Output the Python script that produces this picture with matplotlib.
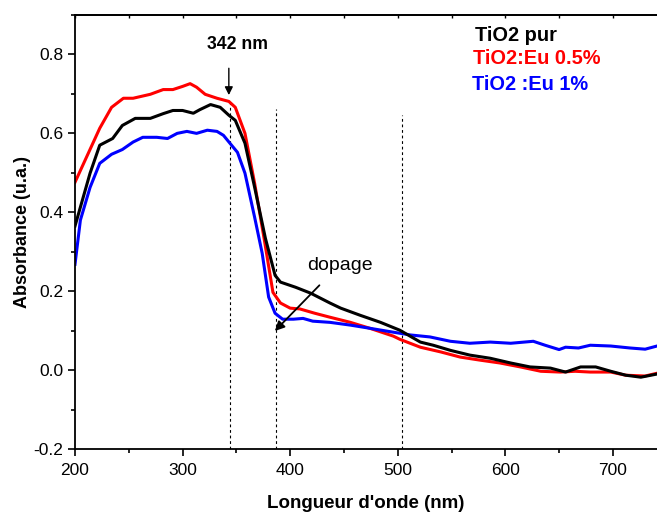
import numpy as np
import matplotlib
matplotlib.use("Agg")
import matplotlib.pyplot as plt
from matplotlib.ticker import MultipleLocator

plt.rcParams["font.family"] = ["Liberation Sans", "DejaVu Sans"]

# TiO2 pur (noir)
x_pur = [200, 214, 223, 235, 244, 256, 270, 282, 291, 300, 310, 316, 326, 335, 343, 349,
         358, 367, 377, 386, 391, 405, 419, 437, 447, 465, 484, 502, 521, 533, 549, 567,
         586, 605, 623, 642, 656, 670, 684, 698, 712, 726, 741]
y_pur = [0.365, 0.499, 0.570, 0.587, 0.620, 0.638, 0.638, 0.650, 0.658, 0.658, 0.651, 0.660,
         0.673, 0.666, 0.646, 0.633, 0.575, 0.463, 0.334, 0.240, 0.223, 0.210, 0.195, 0.170,
         0.157, 0.139, 0.121, 0.101, 0.071, 0.063, 0.050, 0.038, 0.030, 0.018, 0.008, 0.005,
         -0.005, 0.008, 0.008, -0.003, -0.013, -0.018, -0.010]

# TiO2:Eu 0.5% (rouge)
x_eu05 = [200, 223, 234, 245, 254, 270, 282, 291, 300, 307, 313, 321, 332, 343, 349, 358,
          367, 376, 384, 391, 400, 409, 423, 437, 456, 474, 496, 502, 521, 540, 558, 577,
          595, 614, 633, 651, 665, 679, 698, 712, 730, 741]
y_eu05 = [0.476, 0.613, 0.666, 0.689, 0.689, 0.699, 0.711, 0.711, 0.719, 0.726, 0.717, 0.699,
          0.689, 0.681, 0.666, 0.600, 0.473, 0.330, 0.197, 0.170, 0.157, 0.155, 0.144, 0.134,
          0.121, 0.106, 0.086, 0.078, 0.058, 0.046, 0.033, 0.025, 0.018, 0.008, -0.003,
          -0.005, -0.003, -0.005, -0.005, -0.013, -0.015, -0.008]

# TiO2 :Eu 1% (bleu)
x_eu1 = [200, 205, 214, 223, 234, 244, 254, 263, 276, 286, 295, 304, 313, 323, 332, 338,
         344, 351, 358, 367, 374, 380, 386, 393, 403, 412, 421, 437, 456, 474, 496, 512,
         530, 549, 567, 586, 605, 626, 637, 650, 656, 668, 679, 698, 716, 730, 741]
y_eu1 = [0.268, 0.380, 0.463, 0.524, 0.547, 0.559, 0.578, 0.590, 0.590, 0.587, 0.600, 0.605,
         0.600, 0.608, 0.605, 0.595, 0.575, 0.552, 0.499, 0.387, 0.296, 0.185, 0.144, 0.129,
         0.129, 0.131, 0.124, 0.121, 0.114, 0.106, 0.096, 0.089, 0.084, 0.073, 0.068, 0.071,
         0.068, 0.073, 0.063, 0.052, 0.058, 0.056, 0.063, 0.061, 0.056, 0.053, 0.061]

# lignes pointillees verticales (x, y haut)
vlines_x = [344, 387, 504]
vlines_top = [0.685, 0.663, 0.646]

fig = plt.figure(figsize=(6.57, 5.13), dpi=100)
ax = fig.add_axes([75 / 657, 1 - 449 / 513, 1 - 75 / 657, (449 - 15) / 513])

for xv, yt in zip(vlines_x, vlines_top):
    ax.plot([xv, xv], [-0.2, yt], color="black", lw=0.8, ls=(0, (2.5, 2.5)), zorder=1)

ax.plot(x_pur, y_pur, color="black", lw=2.2, zorder=3)
ax.plot(x_eu05, y_eu05, color="red", lw=2.2, zorder=2)
ax.plot(x_eu1, y_eu1, color="blue", lw=2.2, zorder=2)

ax.set_xlim(200, 741)
ax.set_ylim(-0.2, 0.9)
ax.xaxis.set_major_locator(MultipleLocator(100))
ax.xaxis.set_minor_locator(MultipleLocator(50))
ax.yaxis.set_major_locator(MultipleLocator(0.2))
ax.yaxis.set_minor_locator(MultipleLocator(0.1))
ax.yaxis.set_major_formatter(plt.FuncFormatter(lambda v, p: "%.1f" % v))
ax.tick_params(which="major", direction="out", length=5, width=1.2, labelsize=12.5)
ax.tick_params(axis="x", which="major", pad=5)
ax.tick_params(which="minor", direction="out", length=3, width=1.2)
ax.spines["right"].set_visible(False)
for s in ["left", "bottom", "top"]:
    ax.spines[s].set_linewidth(1.3)

top = ax.secondary_xaxis("top")
top.xaxis.set_major_locator(MultipleLocator(50))
top.tick_params(direction="in", length=2.5, width=1, labeltop=False)
top.spines["top"].set_linewidth(1.3)

ax.set_xlabel("Longueur d'onde (nm)", fontsize=13.5, fontweight="bold", labelpad=12)
ax.set_ylabel("Absorbance (u.a.)", fontsize=13, fontweight="bold", labelpad=2)

ax.text(572, 0.833, "TiO2 pur", color="black", fontsize=14.4, fontweight="bold", va="baseline")
ax.text(570, 0.777, "TiO2:Eu 0.5%", color="red", fontsize=14.4, fontweight="bold", va="baseline")
ax.text(569, 0.711, "TiO2 :Eu 1%", color="blue", fontsize=14.4, fontweight="bold", va="baseline")

ax.text(351, 0.813, "342 nm", fontsize=12.7, fontweight="bold", ha="center", va="baseline")
ax.annotate("", xy=(343, 0.69), xytext=(343, 0.772),
            arrowprops=dict(arrowstyle="-|>", color="black", lw=1, mutation_scale=12))

ax.text(416, 0.253, "dopage", fontsize=14, va="baseline")
ax.annotate("", xy=(384, 0.094), xytext=(429, 0.22),
            arrowprops=dict(arrowstyle="-|>", color="black", lw=1.3, mutation_scale=14))

fig.savefig("out.png", dpi=100)
